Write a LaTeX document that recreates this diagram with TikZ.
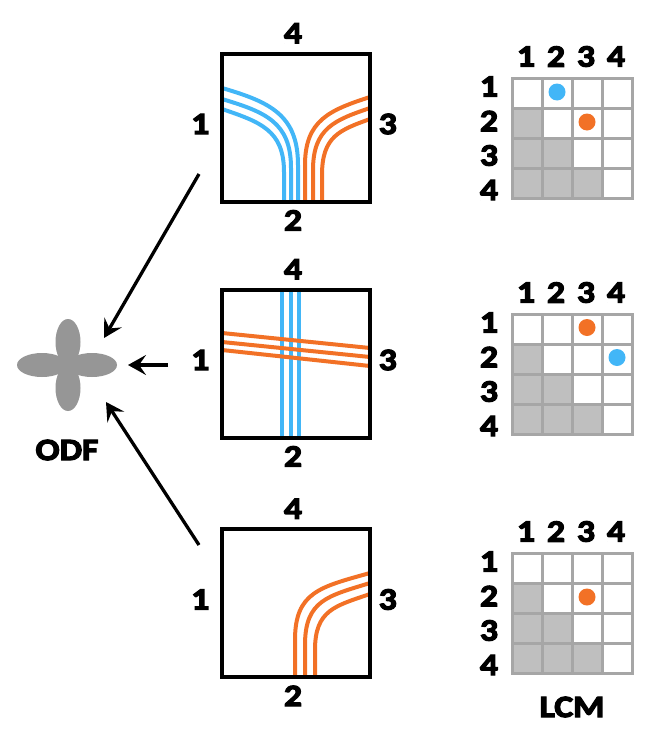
\documentclass[tikz,border=0pt]{standalone}
\usepackage{fontspec}
\setmainfont{Carlito}
\newfontfamily\labelfont{Carlito}[UprightFont=*-Bold, FakeBold=4, FakeStretch=1.15]
\definecolor{fibreblue}{RGB}{66,182,247}
\definecolor{fibreorange}{RGB}{242,113,38}
\definecolor{gridgray}{RGB}{166,166,166}
\definecolor{cellgray}{RGB}{191,191,191}
\definecolor{odfgray}{RGB}{150,150,150}
\usetikzlibrary{arrows.meta,positioning}

\begin{document}
\begin{tikzpicture}[x=1pt, y=-1pt, thick,
    every node/.style={font=\labelfont\fontsize{31}{31}\selectfont},
    voxel/.style={draw, line width=4pt, minimum size=148pt, inner sep=0pt},
    fibre/.style={line width=4pt},
    gridline/.style={draw=gridgray, line width=3pt, line cap=rect},
    pointer/.style={-{Stealth[length=18pt, width=20pt, inset=7pt]}, line width=3.3pt},
    spot/.style={circle, minimum size=17pt, inner sep=0pt}]
    \useasboundingbox (0,0) rectangle (668,744);

    % fibres, drawn first so the box borders lie on top
    \draw[fibre, fibreblue] (222,88) .. controls (270,102) and (298,115) .. (298,165) -- (298,201);
    \draw[fibre, fibreblue] (222,99) .. controls (265,112) and (291,122) .. (291,168) -- (291,201);
    \draw[fibre, fibreblue] (222,109) .. controls (260,122) and (284,130) .. (284,172) -- (284,201);
    \draw[fibre, fibreorange] (370,97) .. controls (330,110) and (305,120) .. (305,165) -- (305,201);
    \draw[fibre, fibreorange] (370,108) .. controls (335,120) and (313,128) .. (313,170) -- (313,201);
    \draw[fibre, fibreorange] (370,119) .. controls (340,130) and (322,136) .. (322,175) -- (322,201);

    \foreach \x in {282,290.5,299}
        \draw[fibre, fibreblue] (\x,290) -- (\x,437);
    \draw[fibre, fibreorange] (222,333) -- (370,348);
    \draw[fibre, fibreorange] (222,342) -- (370,357);
    \draw[fibre, fibreorange] (222,350) -- (370,366);

    \draw[fibre, fibreorange] (370,573) .. controls (320,587) and (295,592) .. (295,640) -- (295,676);
    \draw[fibre, fibreorange] (370,583) .. controls (328,596) and (305,600) .. (305,645) -- (305,676);
    \draw[fibre, fibreorange] (370,594) .. controls (335,606) and (315,610) .. (315,650) -- (315,676);

    % voxels
    \node[voxel] (v1) at (296,127.5) {};
    \node[voxel] (v2) at (296,363.5) {};
    \node[voxel] (v3) at (296,603) {};
    \foreach \v in {v1,v2,v3} {
        \node[above=4.5pt of \v.north, xshift=-3pt] (\v-4) {4};
        \node[below=3pt of \v.south, xshift=-3pt] (\v-2) {2};
        \node[left=7pt of \v.west, yshift=3.5pt] (\v-1) {1};
        \node[right=3pt of \v.east, yshift=3.5pt] (\v-3) {3};
    }

    % connectivity matrices
    \foreach \g/\gy in {g1/78.5,g2/314.5,g3/553.5} {
        \foreach \r/\n in {2/1,3/2,4/3}
            \foreach \c in {1,...,\n}
                \fill[cellgray] ({512+30*(\c-1)},{\gy+30*(\r-1)}) rectangle ++(30,30);
        \foreach \k in {0,...,4} {
            \draw[gridline] ({512+30*\k},\gy) -- ++(0,120);
            \draw[gridline] (512,{\gy+30*\k}) -- ++(120,0);
        }
        \foreach \k in {1,...,4} {
            \node (\g-c\k) at ({496+30*\k},{\gy-22}) {\k};
            \node (\g-r\k) at (489,{\gy+8+34.5*(\k-1)}) {\k};
        }
    }
    \node[spot, fill=fibreblue] (g1-blue) at (557,92) {};
    \node[spot, fill=fibreorange] (g1-orange) at (587,122) {};
    \node[spot, fill=fibreorange] (g2-orange) at (587,327.5) {};
    \node[spot, fill=fibreblue] (g2-blue) at (617,357.5) {};
    \node[spot, fill=fibreorange] (g3-orange) at (587,597) {};
    \node (lcm) at (572,707) {LCM};

    % ODF
    \fill[odfgray] (42,365) ellipse [x radius=25pt, y radius=12pt];
    \fill[odfgray] (92,365) ellipse [x radius=25pt, y radius=12pt];
    \fill[odfgray] (68,342) ellipse [x radius=12.5pt, y radius=23pt];
    \fill[odfgray] (68,388) ellipse [x radius=12.5pt, y radius=23pt];
    \node (odf) at (67,450) {ODF};

    \coordinate (from1) at (199,174);
    \coordinate (from2) at (168,365);
    \coordinate (from3) at (199,545);
    \coordinate (to1) at (104,338);
    \coordinate (to2) at (128,365);
    \coordinate (to3) at (106,402);
    \draw[pointer] (from1) -- (to1);
    \draw[pointer] (from2) -- (to2);
    \draw[pointer] (from3) -- (to3);
\end{tikzpicture}
\end{document}
